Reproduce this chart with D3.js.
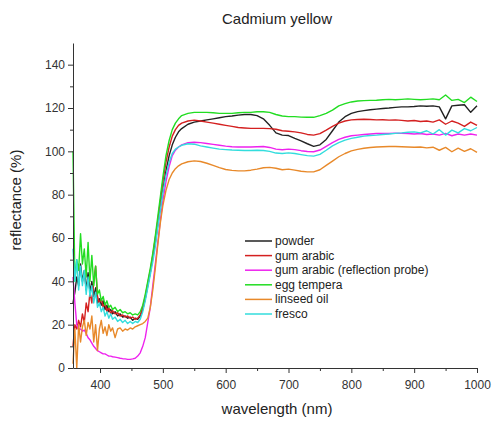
<!DOCTYPE html>
<html><head><meta charset="utf-8">
<script src="https://cdn.jsdelivr.net/npm/d3@7"></script>
<style>body{margin:0;background:#fff}svg{display:block}text{font-family:"Liberation Sans",Arial,sans-serif}</style>
</head><body><svg id="c" width="492" height="421"></svg>
<script>
const wavelength = [357,360,363,366,369,372,375,378,381,384,387,390,393,396,399,402,405,408,411,414,417,420,424,428,432,436,440,444,448,452,456,460,464,
468,472,476,480,484,488,492,496,500,505,510,515,520,525,530,540,550,
560,570,580,590,600,610,620,630,640,650,660,670,680,690,700,710,720,730,740,750,760,770,780,790,800,810,820,830,840,850,860,870,880,890,900,910,920,930,940,950,960,970,980,990,1000];

const powder = [30,35,42,38,48,40,45,36,44,35,40,33,37,30,32,29,31,27,29,26,27,25,26,24,25,23.5,24,23,23.5,22,23,22.5,24,
27,32,38,44,51,58,66,74,82,91,98,103,106.5,109,110.5,112.5,113.5,
114,114.5,115,115.5,116,116.3,116.7,117,117,116.5,115,112,108.5,107.5,107.3,106,104.8,103.5,102.3,103,105.5,109.5,113.5,116,117.5,118.3,118.8,119.2,119.5,119.8,120,120.3,120.5,120.5,120.7,121,120.8,121,120.5,115,121,121.3,121.5,118,121];

const gumArabic = [10,20,18,22,19,25,21,30,26,35,30,40,47,33,30,32,28,30,26,28,25,26.5,25,25.5,24,24.5,23.5,24,23,23.5,22.5,23,24.5,
28,33,39,45,52,60,68,77,86,95,102,107,110,112,113,114,114.4,
114,113.5,113,112.5,112,111.5,111,110.8,110.6,110.6,110.6,110.5,110.2,109.5,109.3,109,108.5,107.8,107.5,108.2,109.8,111.5,113,114,114.5,114.7,114.8,114.7,114.5,114.6,114.4,114.5,114.3,114,114.2,113.8,114,113.5,114.5,112.5,114,113,111.5,113.5,112];

const gumArabicProbe = [42,30,20,18,18,17,17.5,16,14,13,11.5,10,9,8,7.5,7,6.5,6.5,6,5.5,5.5,5.2,5,4.8,4.5,4.3,4.2,4,4,4.2,4.5,5.5,7,
10,14,21,28,38,48,58,68,77,86,93,98,100.5,102,103,104,104.2,
104,103.6,103.2,102.8,102.4,102.1,102,102,102,102.1,102.2,101.8,101,100.7,101,100.8,100.3,99.9,99.8,100.6,102.3,104,105.5,106.5,107.2,107.5,107.8,108,108.2,108.3,108.2,108.4,108.3,108.2,108,108.2,107.8,108,107.5,108.3,107.2,108,107.5,108,107.5];

const eggTempera = [100,40,50,45,62,48,55,42,58,40,52,38,47,34,36,31,33,29,31,28,29,27,28,26,27,25.5,26,25,25.5,24.5,25,24.5,26,
29,34,40,46,53,61,70,79,88,98,105,110,113,115,116.5,117.5,118,
118,118,117.8,117.5,117.5,117.5,117.8,118,118,118.3,118.3,118,117,116.3,116,116,115.8,115.7,115.7,116.5,117.5,119,121,122,122.8,123.2,123.4,123.5,123.6,123.8,124,123.8,124,124.2,124,123.8,124,124.2,123.8,126,123.5,124,122.5,125,123];

const linseedOil = [2,18,0,20,12,19,22,15,21,18,24,12,20,8,18,22,16,19,15,20,17,18.5,14,18,18.5,17,18,17.5,18.5,18,19,19.5,20,
20.5,21.5,23,28,36,46,57,67,75,82,87,90,92,93.3,94.2,95.2,95.6,
95.3,94.5,93.5,92.5,91.6,91.2,91,91,91.3,91.8,92.4,92.6,92.2,91.5,91.8,91.3,90.8,90.5,90.5,91.5,93.5,95.5,97.5,99,100.2,100.9,101.4,101.8,102,102.1,102.2,102.2,102.1,102,101.9,102,101.6,101.9,100.5,101.8,99.8,101.5,100,101.2,99.5];

const fresco = [55,40,50,36,47,38,45,34,42,33,38,30,35,28,30,26,28,24,26,23,25,22.5,23.5,21.5,22.5,21,22,20.5,21.5,20.5,21.5,21,22.5,
26,31,37,43,49,56,65,73,81,89,95,99,101,102,102.8,103.5,103.3,
102.5,102,101.5,101,100.8,100.6,100.5,100.4,100.4,100.5,100.4,100,99.2,99,99.3,99,98.5,98,97.8,98.6,100.5,102.5,104,105.2,106,106.5,107,107.3,107.5,107.8,108,108.3,108.5,108.8,109,108.5,109.5,108,110,107.5,109.8,108.5,110.5,109.5,111];

const seriesNames = ["powder","gum arabic","gum arabic (reflection probe)","egg tempera","linseed oil","fresco"];
const seriesColors = ["#222222","#d42020","#ee22ee","#22dd22","#e8892a","#33dddd"];
const seriesValues = [powder, gumArabic, gumArabicProbe, eggTempera, linseedOil, fresco];
const xTicks = [400,500,600,700,800,900,1000];
const xMinor = [450,550,650,750,850,950];
const yTicks = [0,20,40,60,80,100,120,140];
const yMinor = [10,30,50,70,90,110,130];

const svg = d3.select("#c");
const x = d3.scaleLinear().domain([357,1000]).range([73,477]);
const y = d3.scaleLinear().domain([0,150]).range([368,43]);

svg.append("text").attr("x",277).attr("y",24).attr("text-anchor","middle").attr("font-size",15).attr("fill","#222").text("Cadmium yellow");

const line = d3.line().x((d,i)=>x(wavelength[i])).y(d=>y(d));
seriesValues.forEach((vals,k)=>{
  svg.append("path").datum(vals).attr("d",line).attr("fill","none")
    .attr("stroke",seriesColors[k]).attr("stroke-width",1.4).attr("stroke-linejoin","round");
});

// axes
const gx = svg.append("g").attr("transform","translate(0,368)")
  .call(d3.axisBottom(x).tickValues(xTicks).tickSize(5).tickSizeOuter(0).tickFormat(d3.format("d")));
svg.append("g").attr("transform","translate(0,368)")
  .call(d3.axisBottom(x).tickValues(xMinor).tickSize(3).tickSizeOuter(0).tickFormat(""))
  .select(".domain").remove();
const gy = svg.append("g").attr("transform","translate(73,0)")
  .call(d3.axisLeft(y).tickValues(yTicks).tickSize(5).tickSizeOuter(0));
svg.append("g").attr("transform","translate(73,0)")
  .call(d3.axisLeft(y).tickValues(yMinor).tickSize(3).tickSizeOuter(0).tickFormat(""))
  .select(".domain").remove();
svg.selectAll(".tick text").attr("font-size",12).attr("fill","#333").attr("font-family","Liberation Sans, Arial, sans-serif");
svg.selectAll(".domain,.tick line").attr("stroke","#333");
gx.selectAll(".tick text").attr("dy","1.05em");

svg.append("text").attr("x",277).attr("y",414).attr("text-anchor","middle").attr("font-size",15).attr("fill","#222").text("wavelength (nm)");
svg.append("text").attr("transform","translate(21,200) rotate(-90)").attr("text-anchor","middle").attr("font-size",15).attr("fill","#222").text("reflectance (%)");

// legend
const lg = svg.append("g");
seriesNames.forEach((n,i)=>{
  const yy = 241 + i*14.6;
  lg.append("line").attr("x1",245).attr("x2",272).attr("y1",yy).attr("y2",yy).attr("stroke",seriesColors[i]).attr("stroke-width",1.5);
  lg.append("text").attr("x",275).attr("y",yy+4).attr("font-size",12).attr("fill","#222").text(n);
});
</script></body></html>
